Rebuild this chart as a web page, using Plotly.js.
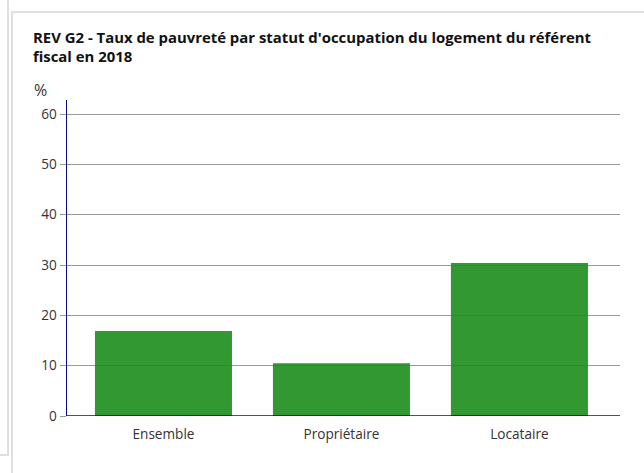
<!DOCTYPE html>
<html>
<head>
<meta charset="utf-8">
<script src="https://cdn.plot.ly/plotly-3.0.1.min.js"></script>
<style>
html,body{margin:0;padding:0;background:#fff;}
#wrap{position:relative;width:644px;height:473px;overflow:hidden;}
#side{position:absolute;left:-10px;top:-10px;width:15px;height:462px;border:2px solid #e0e0e0;z-index:5;pointer-events:none;}
#frame{position:absolute;left:11px;top:11px;width:700px;height:500px;border:2px solid #e0e0e0;z-index:5;pointer-events:none;}
#chart{position:absolute;left:0;top:0;width:644px;height:473px;z-index:1;}
</style>
</head>
<body>
<div id="wrap">
<div id="chart"></div>
<div id="side"></div>
<div id="frame"></div>
</div>
<script>
const categories = ["Ensemble", "Propriétaire", "Locataire"];
const values = [16.9, 10.5, 30.4];
const yTicks = [0, 10, 20, 30, 40, 50, 60];

const trace = {
  type: 'bar',
  x: categories,
  y: values,
  width: 0.77,
  marker: {color: 'rgba(28,142,28,0.9)', line: {width: 0}},
  hoverinfo: 'x+y'
};

const layout = {
  width: 644, height: 473,
  paper_bgcolor: 'rgba(0,0,0,0)',
  plot_bgcolor: 'rgba(0,0,0,0)',
  margin: {l: 67, r: 24, t: 100, b: 57},
  font: {family: 'Open Sans, sans-serif', size: 13.6, color: '#333'},
  title: {
    text: "<b>REV G2 - Taux de pauvreté par statut d'occupation du logement du référent<br>fiscal en 2018</b>",
    x: 33/644, xanchor: 'left', xref: 'container',
    y: 1 - 43/473, yanchor: 'top', yref: 'container',
    font: {family: 'Open Sans, sans-serif', size: 14.9, color: '#111', weight: 700}
  },
  showlegend: false,
  xaxis: {
    type: 'category',
    range: [-0.542, 2.565],
    showgrid: false,
    showline: false,
    ticks: 'outside',
    ticklen: 6,
    tickcolor: 'rgba(0,0,0,0)',
    tickfont: {size: 13.6, color: '#333'},
    fixedrange: true
  },
  yaxis: {
    range: [0, 62.8],
    tickvals: yTicks,
    ticktext: yTicks.map(String),
    showgrid: true,
    gridcolor: '#9a9a9a',
    gridwidth: 1,
    zeroline: false,
    showline: true,
    linecolor: '#0b0b80',
    linewidth: 1.5,
    ticks: 'outside',
    ticklen: 6,
    tickcolor: '#9a9a9a',
    tickfont: {size: 13.6, color: '#333'},
    fixedrange: true
  },
  shapes: [{
    type: 'line', xref: 'paper', yref: 'y',
    x0: 0, x1: 1, y0: 0, y1: 0,
    line: {color: '#0b0b80', width: 1.5}
  }],
  annotations: [{
    text: '%', xref: 'paper', yref: 'paper',
    x: -35/553, y: 1 - 3/316, xanchor: 'left', yanchor: 'bottom',
    showarrow: false, font: {size: 16, color: '#333'}
  }]
};

Plotly.newPlot('chart', [trace], layout, {displayModeBar: false, staticPlot: true});
</script>
</body>
</html>
